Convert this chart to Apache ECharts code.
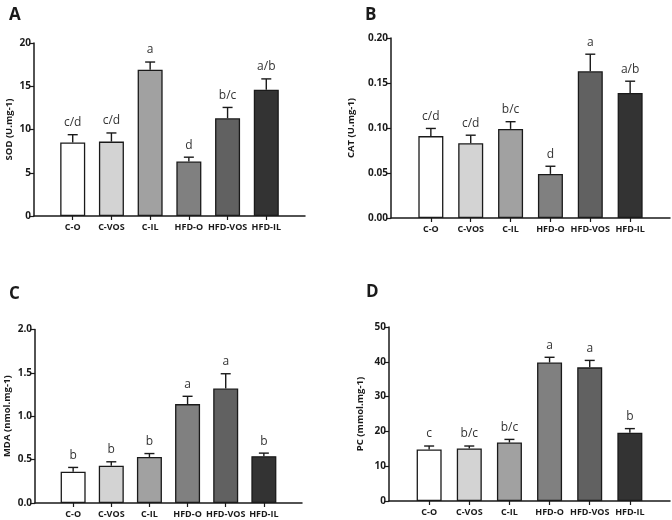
<!DOCTYPE html>
<html>
<head>
<meta charset="utf-8">
<script src="https://cdn.jsdelivr.net/npm/echarts@6/dist/echarts.min.js"></script>
<style>
  html, body { margin: 0; padding: 0; background: #fff; }
  #chart { width: 672px; height: 520px; }
</style>
</head>
<body>
<div id="chart"></div>
<script>
// groups on the x axis
const groups = ['C-O', 'C-VOS', 'C-IL', 'HFD-O', 'HFD-VOS', 'HFD-IL']
const barColors = ['#ffffff', '#d3d3d3', '#a1a1a1', '#808080', '#616161', '#333333']

// A - SOD
const sodMean = [8.5, 8.6, 16.9, 6.3, 11.3, 14.6]
const sodSem = [0.9, 1.0, 0.9, 0.5, 1.25, 1.25]
const sodLetters = ['c/d', 'c/d', 'a', 'd', 'b/c', 'a/b']

// B - CAT
const catMean = [0.091, 0.083, 0.099, 0.049, 0.163, 0.139]
const catSem = [0.0085, 0.009, 0.008, 0.0085, 0.019, 0.013]
const catLetters = ['c/d', 'c/d', 'b/c', 'd', 'a', 'a/b']

// C - MDA
const mdaMean = [0.36, 0.43, 0.53, 1.14, 1.32, 0.54]
const mdaSem = [0.05, 0.045, 0.04, 0.09, 0.17, 0.035]
const mdaLetters = ['b', 'b', 'b', 'a', 'a', 'b']

// D - PC
const pcMean = [14.8, 15.1, 16.8, 39.8, 38.4, 19.6]
const pcSem = [1.0, 0.7, 0.9, 1.5, 2.0, 1.2]
const pcLetters = ['c', 'b/c', 'b/c', 'a', 'a', 'b']

const font = '"Open Sans", "Liberation Sans", sans-serif'
const ink = '#1a1a1a'

const panels = [
  {mark: 'A', name: 'SOD (U.mg-1)', mean: sodMean, sem: sodSem, letters: sodLetters,
   max: 20, interval: 5, digits: 0, nameGap: 20,
   grid: {left: 34, top: 43, width: 271, height: 173}, markPos: {left: 4, top: 2}},
  {mark: 'B', name: 'CAT (U.mg-1)', mean: catMean, sem: catSem, letters: catLetters,
   max: 0.2, interval: 0.05, digits: 2, nameGap: 35,
   grid: {left: 391, top: 38, width: 279, height: 180}, markPos: {left: 360, top: 2}},
  {mark: 'C', name: 'MDA (nmol.mg-1)', mean: mdaMean, sem: mdaSem, letters: mdaLetters,
   max: 2, interval: 0.5, digits: 1, nameGap: 23,
   grid: {left: 35, top: 329.5, width: 267, height: 173.5}, markPos: {left: 4, top: 281}},
  {mark: 'D', name: 'PC (mmol.mg-1)', mean: pcMean, sem: pcSem, letters: pcLetters,
   max: 50, interval: 10, digits: 0, nameGap: 24,
   grid: {left: 389, top: 327, width: 281, height: 174}, markPos: {left: 361, top: 279}}
]

const idx = [0, 1, 2, 3, 4, 5]

let option = {
  backgroundColor: '#fff',
  animation: false,
  title: [],
  grid: [],
  xAxis: [],
  yAxis: [],
  series: []
}

panels.forEach(function (p, k) {
  option.title.push({
    text: p.mark, left: p.markPos.left, top: p.markPos.top,
    textStyle: {fontFamily: font, fontSize: 17, fontWeight: 'bold', color: ink}
  })
  option.grid.push(p.grid)
  option.xAxis.push({
    gridIndex: k, type: 'value', min: -1, max: 6,
    axisLine: {show: true, onZero: false, lineStyle: {color: ink, width: 1.5}},
    axisTick: {show: true, length: 4, customValues: idx, lineStyle: {color: ink, width: 1.2}},
    axisLabel: {
      customValues: idx, margin: 7, hideOverlap: false,
      fontFamily: font, fontSize: 9, fontWeight: 'bold', color: ink,
      formatter: function (v) { return groups[Math.round(v)] }
    },
    splitLine: {show: false}
  })
  option.yAxis.push({
    gridIndex: k, type: 'value', min: 0, max: p.max, interval: p.interval,
    name: p.name, nameLocation: 'middle', nameGap: p.nameGap,
    nameTextStyle: {fontFamily: font, fontSize: 9.5, fontWeight: 'bold', color: ink},
    axisLine: {show: true, onZero: false, lineStyle: {color: ink, width: 1.5}},
    axisTick: {show: true, length: 4, lineStyle: {color: ink, width: 1.2}},
    axisLabel: {
      margin: 3, fontFamily: font, fontSize: 10, fontWeight: 'bold', color: ink,
      formatter: function (v) { return v.toFixed(p.digits) }
    },
    splitLine: {show: false}
  })
  option.series.push({
    type: 'bar', xAxisIndex: k, yAxisIndex: k, barWidth: 25,
    data: p.mean.map(function (v, i) {
      return {value: [i, v], itemStyle: {color: barColors[i], borderColor: ink, borderWidth: 1.3}}
    })
  })
  // error bars + significance letters
  option.series.push({
    type: 'custom', xAxisIndex: k, yAxisIndex: k, z: 3,
    data: p.mean.map(function (v, i) { return [i, v, v + p.sem[i]] }),
    renderItem: function (params, api) {
      const i = api.value(0)
      const top = api.coord([i, api.value(1)])
      const err = api.coord([i, api.value(2)])
      const cap = 5
      return {
        type: 'group',
        children: [
          {type: 'line', shape: {x1: err[0], y1: top[1], x2: err[0], y2: err[1]},
           style: {stroke: ink, lineWidth: 1.4}},
          {type: 'line', shape: {x1: err[0] - cap, y1: err[1], x2: err[0] + cap, y2: err[1]},
           style: {stroke: ink, lineWidth: 1.4}},
          {type: 'text', x: err[0], y: err[1] - 12,
           style: {text: p.letters[i], fill: '#333', font: '12px ' + font,
                   align: 'center', verticalAlign: 'middle'}}
        ]
      }
    }
  })
})

const chart = echarts.init(document.getElementById('chart'))
chart.setOption(option)
</script>
</body>
</html>
